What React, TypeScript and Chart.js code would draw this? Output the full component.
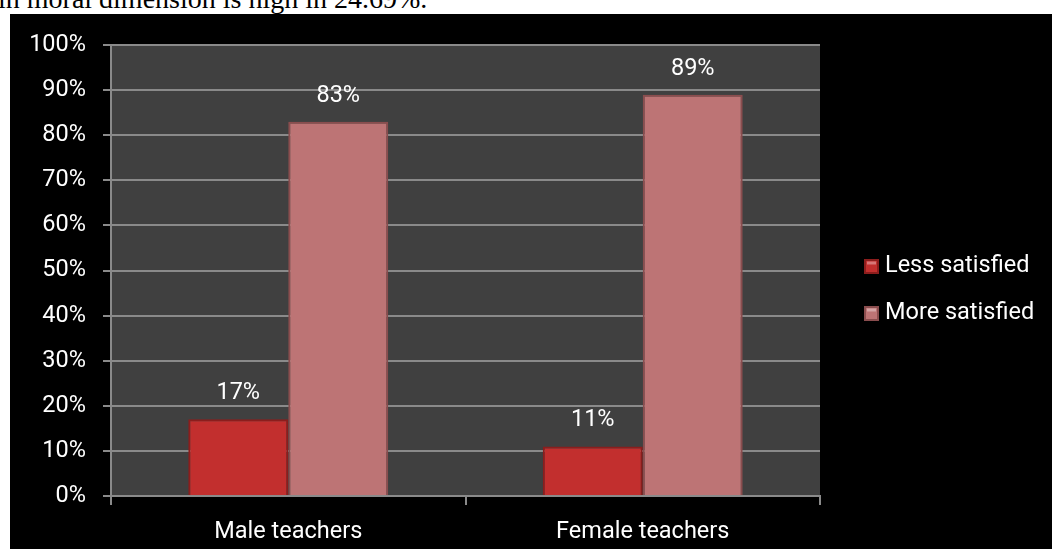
import React, { useEffect, useRef } from "react";
import { Chart, registerables } from "chart.js";

Chart.register(...registerables);

const categories = ["Male teachers", "Female teachers"];
const seriesNames = ["Less satisfied", "More satisfied"];
const lessSatisfied = [17, 11];
const moreSatisfied = [83, 89];
const yTickValues = [0, 10, 20, 30, 40, 50, 60, 70, 80, 90, 100];
const topLine = "in moral dimension is high in 24.69%.";

const FONT = "Roboto, Lato, sans-serif";
const FONT_SIZE = 23.5;
const GRID = "#8a8a8a";
const PLOT_BG = "#404040";
const RED = "#c22f2e";
const RED_EDGE = "#8c1d1c";
const PINK = "#bd7475";
const PINK_EDGE = "#8a4d4e";

const bgPlugin = {
  id: "bgPlugin",
  beforeDraw(chart: any) {
    const { ctx, chartArea } = chart;
    ctx.save();
    ctx.fillStyle = "#000";
    ctx.fillRect(0, 0, chart.width, chart.height);
    ctx.fillStyle = PLOT_BG;
    ctx.fillRect(chartArea.left, chartArea.top, chartArea.right - chartArea.left, chartArea.bottom - chartArea.top);
    ctx.restore();
  },
};

const labelPlugin = {
  id: "labelPlugin",
  afterDatasetsDraw(chart: any) {
    const { ctx } = chart;
    ctx.save();
    ctx.fillStyle = "#fff";
    ctx.font = `${FONT_SIZE}px ${FONT}`;
    ctx.textAlign = "center";
    ctx.textBaseline = "middle";
    chart.data.datasets.forEach((ds: any, i: number) => {
      const meta = chart.getDatasetMeta(i);
      meta.data.forEach((bar: any, j: number) => {
        ctx.fillText(`${ds.data[j]}%`, bar.x, bar.y - 26);
      });
    });
    ctx.restore();
  },
};

const legendPlugin = {
  id: "legendPlugin",
  afterDraw(chart: any) {
    const { ctx, chartArea } = chart;
    ctx.save();
    ctx.font = `${FONT_SIZE}px ${FONT}`;
    ctx.textBaseline = "middle";
    ctx.textAlign = "left";
    const x0 = chartArea.right + 44;
    const yc = 276;
    chart.data.datasets.forEach((ds: any, i: number) => {
      const y = yc + (i - 0.5) * 47;
      ctx.fillStyle = ds.borderColor;
      ctx.fillRect(x0, y - 7.5, 15, 15);
      ctx.fillStyle = ds.backgroundColor;
      ctx.fillRect(x0 + 2, y - 5.5, 11, 11);
      ctx.fillStyle = "rgba(255,255,255,0.35)";
      ctx.fillRect(x0 + 3, y - 5, 9, 3);
      ctx.fillStyle = "#fff";
      ctx.fillText(ds.label, x0 + 21, y);
    });
    ctx.restore();
  },
};

export default function App() {
  const ref = useRef<HTMLCanvasElement | null>(null);

  useEffect(() => {
    if (!ref.current) return;
    const chart = new Chart(ref.current, {
      type: "bar",
      data: {
        labels: categories,
        datasets: [
          {
            label: seriesNames[0],
            data: lessSatisfied,
            backgroundColor: RED,
            borderColor: RED_EDGE,
            borderWidth: 2,
            categoryPercentage: 0.564,
            barPercentage: 1,
          },
          {
            label: seriesNames[1],
            data: moreSatisfied,
            backgroundColor: PINK,
            borderColor: PINK_EDGE,
            borderWidth: 2,
            categoryPercentage: 0.564,
            barPercentage: 1,
          },
        ],
      },
      options: {
        responsive: false,
        animation: false,
        devicePixelRatio: 1,
        layout: { padding: { top: 29, right: 232, left: 0, bottom: 0 } },
        plugins: {
          legend: { display: false },
          tooltip: { enabled: false },
        },
        scales: {
          x: {
            type: "category",
            offset: true,
            grid: {
              display: true,
              drawOnChartArea: false,
              drawTicks: true,
              tickLength: 9,
              color: GRID,
              lineWidth: 2,
              offset: true,
            },
            border: { display: true, color: GRID, width: 2 },
            ticks: { color: "#fff", font: { family: FONT, size: FONT_SIZE }, padding: 13 },
            afterFit: (scale: any) => {
              scale.height = 53;
            },
          },
          y: {
            min: 0,
            max: 100,
            afterBuildTicks: (scale: any) => {
              scale.ticks = yTickValues.map((v) => ({ value: v }));
            },
            ticks: {
              color: "#fff",
              font: { family: FONT, size: FONT_SIZE },
              padding: 17,
              callback: (v: any) => `${v}%`,
            },
            grid: { color: GRID, lineWidth: 2, tickLength: 8 },
            border: { display: true, color: GRID, width: 2 },
            afterFit: (scale: any) => {
              scale.width = 101;
            },
          },
        },
      },
      plugins: [bgPlugin, labelPlugin, legendPlugin],
    });
    return () => chart.destroy();
  }, []);

  return (
    <div
      style={{
        position: "absolute",
        left: 0,
        top: 0,
        width: 1052,
        height: 549,
        background: "#fff",
        overflow: "hidden",
      }}
    >
      <div style={{ position: "absolute", left: 0, top: 0, width: 1052, height: 14, overflow: "hidden" }}>
        <span
          style={{
            position: "absolute",
            left: -2,
            top: -15,
            whiteSpace: "nowrap",
            fontFamily: "'Liberation Serif', 'Times New Roman', serif",
            fontSize: 28,
            lineHeight: "28px",
            color: "#000",
          }}
        >
          {topLine}
        </span>
      </div>
      <canvas
        ref={ref}
        width={1042}
        height={535}
        style={{ position: "absolute", left: 10, top: 14, width: 1042, height: 535 }}
      />
    </div>
  );
}
